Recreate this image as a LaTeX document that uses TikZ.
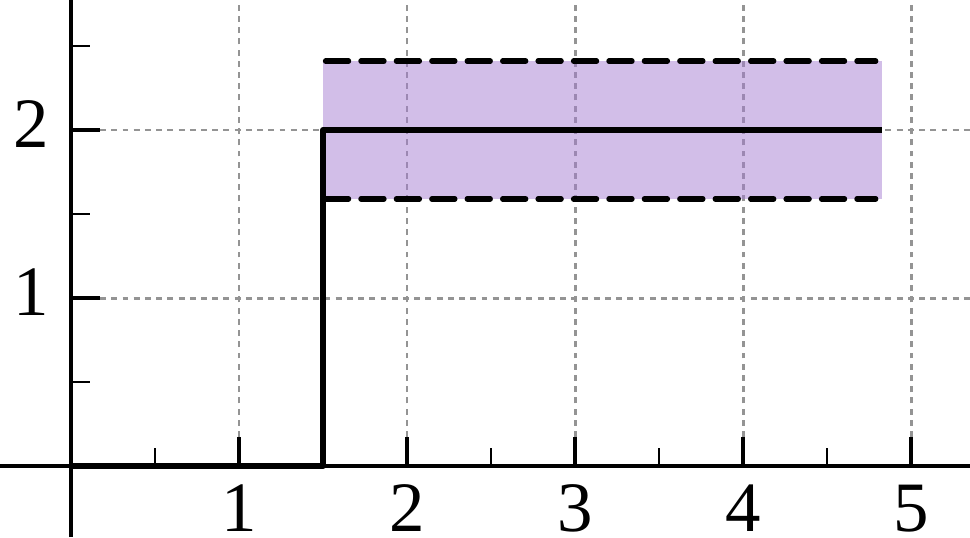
\documentclass[tikz,border=0pt]{standalone}
\usepackage{fontspec}
\setmainfont{Liberation Serif}
\usetikzlibrary{calc}
\definecolor{bandpurple}{RGB}{165,125,209}
\tikzset{
  gridline/.style={black!42,line width=0.5pt,dash pattern=on 1pt off 0.9pt},
  axisline/.style={line width=0.68pt},
  majortick/.style={line width=0.68pt},
  minortick/.style={line width=0.42pt},
  stepline/.style={line width=1pt},
  boundline/.style={line width=0.9pt,line cap=round,dash pattern=on 3.9pt off 2.1pt}
}
\newcommand \mydrawticks[2]
{
\foreach \i in {1,...,#1} \draw[majortick] (\i,0)--(\i,0.173);
\foreach \i in {0.5,1.5,...,#1} \draw[minortick] (\i,0)--(\i,0.107);
\foreach \j in {1,...,#2} \draw[majortick] (0,\j)--(0.173,\j);
\foreach \j in {0.5,1.5,2.5} \draw[minortick] (0,\j)--(0.113,\j);
}

\begin{document}
\begin{tikzpicture}[line join=round, font=\fontsize{12}{14}\selectfont]
\useasboundingbox (-0.4226,-0.4226) rectangle (5.351,2.774);
% grid
\foreach \i in {1,...,5} \draw[gridline] (\i,0.173)--(\i,2.774);
\foreach \j in {1,2} \draw[gridline] (0.173,\j)--(5.351,\j);
% band around the level 2
\coordinate (P1) at (1.5,1.59);
\coordinate (P2) at (4.83,2.41);
\fill[bandpurple,fill opacity=0.5] (P1) rectangle (P2);
% axes
\coordinate (O) at (0,0);
\draw[axisline] (-0.4226,0)--(5.351,0);
\draw[axisline] (0,-0.4226)--(0,2.774);
\mydrawticks{5}{2}
% step
\coordinate (S1) at (1.5,0);
\coordinate (S2) at (1.5,2);
\coordinate (S3) at (4.83,2);
\draw[stepline] (O)--(S1)--(S2)--(S3);
\draw[boundline] ($(P1)+(0.015,0)$)--($(P1-|P2)+(-0.04,0)$);
\draw[boundline] ($(P1|-P2)+(0.015,0)$)--($(P2)+(-0.04,0)$);
% labels
\foreach \i in {1,...,5} \node[anchor=north,inner sep=0pt] (x\i) at (\i,-0.105) {\i};
\foreach \j in {1,2} \node[anchor=east,inner sep=0pt] (y\j) at (-0.125,\j+0.033) {\j};
\end{tikzpicture}
\end{document}
